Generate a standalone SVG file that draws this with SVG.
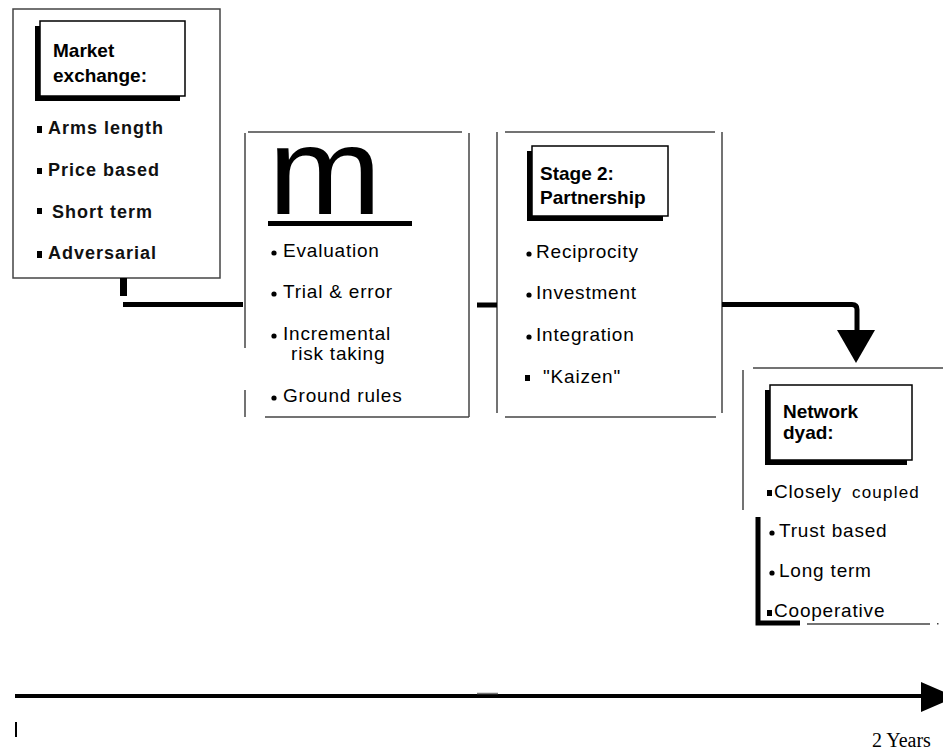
<svg xmlns="http://www.w3.org/2000/svg" width="943" height="751" viewBox="0 0 943 751">
<style>
.frame{stroke:#444;stroke-width:1.5;fill:none}
.thick{stroke:#000;stroke-width:5;fill:none}
.lbl{font-family:"Liberation Sans",Arial,sans-serif;fill:#000}
.hd{font-family:"Liberation Sans",Arial,sans-serif;font-weight:bold;font-size:19px;fill:#000}
.b1{font-family:"Liberation Sans",Arial,sans-serif;font-weight:bold;font-size:18px;fill:#111;letter-spacing:1px}
.it{font-size:19px;letter-spacing:0.8px}
.shadow{fill:#000}
.card{fill:#fff;stroke:#000;stroke-width:1.5}
</style>
<rect width="943" height="751" fill="#fff"/>

<g id="stage0">
  <rect x="13" y="9" width="207" height="269" class="frame"/>
  <rect x="35" y="26" width="145" height="75" class="shadow"/>
  <rect x="40" y="21" width="145" height="75" class="card"/>
  <text x="53" y="57" class="hd">Market</text>
  <text x="53" y="82" class="hd">exchange:</text>
  <rect x="37" y="126" width="5" height="7"/>
  <text x="48" y="134" class="b1">Arms length</text>
  <rect x="37" y="168" width="5" height="6"/>
  <text x="48" y="176" class="b1">Price based</text>
  <rect x="37" y="208" width="5" height="6"/>
  <text x="52" y="218" class="b1">Short term</text>
  <rect x="37" y="251" width="5" height="7"/>
  <text x="48" y="259" class="b1">Adversarial</text>
</g>

<g id="stage1">
  <line x1="248" y1="132" x2="462" y2="132" class="frame"/>
  <line x1="245" y1="133" x2="245" y2="348" class="frame"/>
  <line x1="245" y1="390" x2="245" y2="417" class="frame"/>
  <line x1="469" y1="133" x2="469" y2="417" class="frame"/>
  <line x1="265" y1="417" x2="469" y2="417" class="frame"/>
  <text transform="translate(268,214) scale(1.1,1)" x="0" y="0" class="lbl" font-size="124">m</text>
  <rect x="268" y="221" width="144" height="5"/>
  <circle cx="274" cy="253" r="2.6"/>
  <text x="283" y="257" class="lbl it">Evaluation</text>
  <circle cx="274" cy="294" r="2.6"/>
  <text x="283" y="298" class="lbl it">Trial &amp; error</text>
  <circle cx="274" cy="336" r="2.6"/>
  <text x="283" y="340" class="lbl it">Incremental</text>
  <text x="291" y="360" class="lbl it">risk taking</text>
  <circle cx="274" cy="398" r="2.6"/>
  <text x="283" y="402" class="lbl it">Ground rules</text>
</g>

<g id="stage2">
  <line x1="505" y1="132" x2="715" y2="132" class="frame"/>
  <line x1="497" y1="132" x2="497" y2="413" class="frame"/>
  <line x1="722" y1="132" x2="722" y2="413" class="frame"/>
  <line x1="505" y1="417" x2="716" y2="417" class="frame"/>
  <rect x="527" y="151" width="136" height="70" class="shadow"/>
  <rect x="532" y="146" width="136" height="70" class="card"/>
  <text x="540" y="180" class="hd">Stage 2:</text>
  <text x="540" y="204" class="hd">Partnership</text>
  <circle cx="529" cy="254" r="2.6"/>
  <text x="536" y="258" class="lbl it">Reciprocity</text>
  <circle cx="529" cy="295" r="2.6"/>
  <text x="536" y="299" class="lbl it">Investment</text>
  <circle cx="529" cy="337" r="2.6"/>
  <text x="536" y="341" class="lbl it">Integration</text>
  <rect x="525" y="375" width="5" height="6"/>
  <text x="543" y="383" class="lbl it">"Kaizen"</text>
</g>

<g id="stage3">
  <line x1="753" y1="368" x2="943" y2="368" class="frame"/>
  <line x1="743" y1="370" x2="743" y2="510" class="frame"/>
  <path d="M758,517 V623 H800" class="thick"/>
  <line x1="807" y1="624" x2="930" y2="624" class="frame"/>
  <rect x="937" y="623" width="1.5" height="1.5" fill="#444"/>
  <rect x="765" y="390" width="142" height="75" class="shadow"/>
  <rect x="770" y="385" width="142" height="75" class="card"/>
  <text x="783" y="418" class="hd">Network</text>
  <text x="783" y="439" class="hd">dyad:</text>
  <rect x="767" y="490" width="5" height="6"/>
  <text x="774" y="498" class="lbl it">Closely</text>
  <text x="852" y="498" class="lbl" font-size="17" letter-spacing="1.2">coupled</text>
  <circle cx="772" cy="533" r="2.6"/>
  <text x="779" y="537" class="lbl it">Trust based</text>
  <circle cx="772" cy="573" r="2.6"/>
  <text x="779" y="577" class="lbl it">Long term</text>
  <rect x="767" y="610" width="5" height="6"/>
  <text x="774" y="617" class="lbl it">Cooperative</text>
</g>

<g id="connectors">
  <rect x="120" y="278" width="7" height="18"/>
  <line x1="123" y1="304.5" x2="243" y2="304.5" class="thick"/>
  <line x1="477" y1="305" x2="497" y2="305" class="thick"/>
  <path d="M722,304.5 H852 Q857,304.5 857,309.5 V332" class="thick"/>
  <polygon points="837,330 875,330 856,363"/>
</g>

<g id="timeline">
  <line x1="15" y1="696" x2="925" y2="696" stroke="#000" stroke-width="4"/>
  <polygon points="921,682 956,697 921,712"/>
  <line x1="477" y1="693.5" x2="498" y2="693.5" stroke="#777" stroke-width="1.5"/>
  <rect x="15" y="722" width="2" height="15"/>
  <text x="872" y="747" font-family="'Liberation Serif','Times New Roman',serif" font-size="20" fill="#000">2 Years</text>
</g>
</svg>
